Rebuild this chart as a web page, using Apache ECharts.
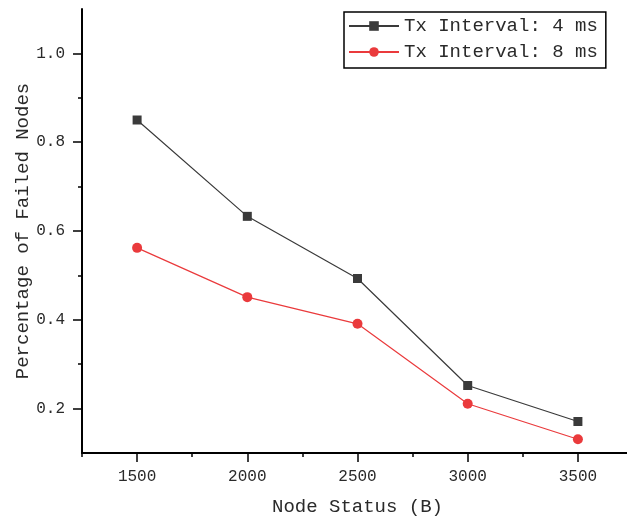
<!DOCTYPE html>
<html>
<head>
<meta charset="utf-8">
<script src="https://cdn.jsdelivr.net/npm/echarts@6/dist/echarts.min.js"></script>
<style>
  html, body { margin: 0; padding: 0; background: #fff; }
  #chart { width: 627px; height: 519px; }
</style>
</head>
<body>
<div id="chart"></div>
<script>
  // 数据
  var nodeStatus = [1500, 2000, 2500, 3000, 3500]
  var interval4ms = [0.85, 0.633, 0.493, 0.252, 0.171]
  var interval8ms = [0.562, 0.451, 0.391, 0.211, 0.131]
  var seriesNames = ['Tx Interval: 4 ms', 'Tx Interval: 8 ms']
  var xMajor = [1500, 2000, 2500, 3000, 3500]
  var xMinor = [1250, 1750, 2250, 2750, 3250, 3750]
  var yMajor = [0.2, 0.4, 0.6, 0.8, 1.0]
  var yMinor = [0.3, 0.5, 0.7, 0.9]

  var textColor = '#2a2a2a'
  var mono = '"Liberation Mono", "DejaVu Sans Mono", monospace'

  function pairs (xs, ys) {
    return xs.map(function (x, i) { return [x, ys[i]] })
  }

  var option = {
    backgroundColor: '#fff',
    animation: false,
    grid: {
      left: 82, top: 9, bottom: 66, right: -6,
      outerBoundsMode: 'none'
    },
    legend: {
      orient: 'vertical',
      left: 344,
      top: 12,
      borderColor: '#000',
      borderWidth: 1.5,
      padding: [1, 8, 3, 4],
      itemGap: 0,
      itemWidth: 50,
      itemHeight: 12,
      textStyle: { fontFamily: mono, fontSize: 19, color: textColor, lineHeight: 26 },
      data: seriesNames
    },
    xAxis: [{
      type: 'value',
      min: 1250, max: 3750,
      name: 'Node Status (B)',
      nameLocation: 'middle',
      nameGap: 44,
      nameMoveOverlap: false,
      nameTextStyle: { fontFamily: mono, fontSize: 19, color: textColor },
      splitLine: { show: false },
      axisLine: { lineStyle: { color: '#000', width: 2 } },
      axisTick: { inside: false, length: 9, customValues: xMajor, lineStyle: { color: '#000', width: 1.5 } },
      axisLabel: {
        customValues: xMajor, margin: 16, fontFamily: mono, fontSize: 16, color: textColor,
        formatter: function (v) { return String(v) }
      }
    }, {
      // 次刻度
      type: 'value',
      position: 'bottom',
      min: 1250, max: 3750,
      splitLine: { show: false },
      axisLine: { show: false },
      axisTick: { length: 4, customValues: xMinor, lineStyle: { color: '#000', width: 1.5 } },
      axisLabel: { show: false }
    }],
    yAxis: [{
      type: 'value',
      min: 0.1, max: 1.1,
      name: 'Percentage of Failed Nodes',
      nameLocation: 'middle',
      nameGap: 50,
      nameMoveOverlap: false,
      nameTextStyle: { fontFamily: mono, fontSize: 19, color: textColor },
      splitLine: { show: false },
      axisLine: { show: true, lineStyle: { color: '#000', width: 2 } },
      axisTick: { show: true, length: 9, customValues: yMajor, lineStyle: { color: '#000', width: 1.5 } },
      axisLabel: {
        customValues: yMajor, margin: 17, fontFamily: mono, fontSize: 16, color: textColor,
        formatter: function (v) { return v.toFixed(1) }
      }
    }, {
      type: 'value',
      position: 'left',
      min: 0.1, max: 1.1,
      splitLine: { show: false },
      axisLine: { show: false },
      axisTick: { show: true, length: 4, customValues: yMinor, lineStyle: { color: '#000', width: 1.5 } },
      axisLabel: { show: false }
    }],
    series: [{
      name: seriesNames[0],
      type: 'line',
      data: pairs(nodeStatus, interval4ms),
      symbol: 'rect',
      symbolSize: 9,
      lineStyle: { color: '#3a3a3a', width: 1.2 },
      itemStyle: { color: '#3a3a3a' }
    }, {
      name: seriesNames[1],
      type: 'line',
      data: pairs(nodeStatus, interval8ms),
      symbol: 'circle',
      symbolSize: 10,
      lineStyle: { color: '#ea3a3c', width: 1.2 },
      itemStyle: { color: '#ea3a3c' }
    }]
  }

  var myChart = echarts.init(document.getElementById('chart'))
  myChart.setOption(option)
</script>
</body>
</html>
